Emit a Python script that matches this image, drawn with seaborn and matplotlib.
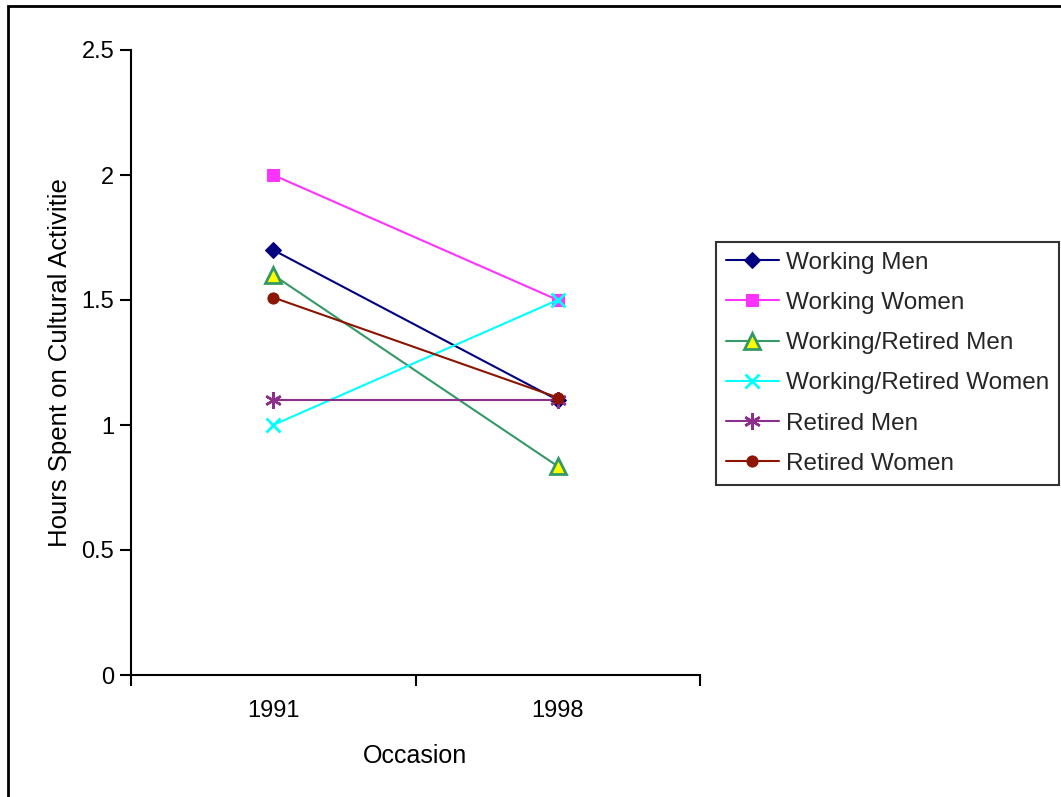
import matplotlib
matplotlib.use("Agg")
import matplotlib.pyplot as plt
import seaborn as sns
import pandas as pd
from matplotlib.patches import Rectangle

occasions = ["1991", "1998"]
working_men = [1.7, 1.1]
working_women = [2.0, 1.5]
working_retired_men = [1.6, 0.835]
working_retired_women = [1.0, 1.5]
retired_men = [1.1, 1.1]
retired_women = [1.51, 1.11]

series_names = ["Working Men", "Working Women", "Working/Retired Men",
                "Working/Retired Women", "Retired Men", "Retired Women"]
series_values = [working_men, working_women, working_retired_men,
                 working_retired_women, retired_men, retired_women]

styles = [
    dict(color="#000080", marker="D", markerfacecolor="#000080", markeredgecolor="#000080", markersize=8),
    dict(color="#FF33FF", marker="s", markerfacecolor="#FF33FF", markeredgecolor="#FF33FF", markersize=9),
    dict(color="#339966", marker="^", markerfacecolor="#FFFF00", markeredgecolor="#339966", markersize=11, markeredgewidth=2),
    dict(color="#00FFFF", marker="x", markerfacecolor="#00FFFF", markeredgecolor="#00FFFF", markersize=10, markeredgewidth=2),
    dict(color="#8B2F8B", marker=(6, 2, 0), markerfacecolor="#8B2F8B", markeredgecolor="#8B2F8B", markersize=12, markeredgewidth=1.8),
    dict(color="#8B1500", marker="o", markerfacecolor="#8B1500", markeredgecolor="#8B1500", markersize=8),
]

sns.set_theme(style="white")
plt.rcParams["font.family"] = ["Liberation Sans", "DejaVu Sans"]

W, H = 1061, 797
fig = plt.figure(figsize=(W / 100, H / 100), dpi=100)
ax = fig.add_axes([131 / W, 1 - 675 / H, (700 - 131) / W, (675 - 50) / H])

for name, vals, st in zip(series_names, series_values, styles):
    df = pd.DataFrame({"Occasion": occasions, "Hours": vals})
    sns.lineplot(data=df, x="Occasion", y="Hours", ax=ax, label=name,
                 linewidth=1.5, **st)

ax.set_xlim(-0.5, 1.5)
ax.set_ylim(0, 2.5)
ax.set_yticks([0, 0.5, 1, 1.5, 2, 2.5])
ax.set_yticklabels(["0", "0.5", "1", "1.5", "2", "2.5"])
ax.set_xticks([0, 1])
ax.set_xticklabels(occasions)
ax.set_xticks([-0.5, 0.5, 1.5], minor=True)
ax.tick_params(axis="x", which="major", length=0, pad=18, labelsize=17, colors="black")
ax.tick_params(axis="x", which="minor", length=8, width=1.5, direction="out", bottom=True, color="black")
ax.tick_params(axis="y", which="major", length=8, width=1.5, direction="out", left=True, pad=4, labelsize=17, colors="black")

for side in ["top", "right"]:
    ax.spines[side].set_visible(False)
for side in ["left", "bottom"]:
    ax.spines[side].set_color("black")
    ax.spines[side].set_linewidth(1.5)
ax.grid(False)

ax.set_xlabel("Occasion", fontsize=18, labelpad=16, color="black")
ax.set_ylabel("Hours Spent on Cultural Activitie", fontsize=18.5, labelpad=7, color="black")

leg = ax.legend(loc="upper left", bbox_to_anchor=(716 / W, 1 - 242 / H),
                bbox_transform=fig.transFigure, borderaxespad=0,
                fontsize=17.5, frameon=True, fancybox=False, shadow=False,
                handlelength=2.2, labelspacing=0.75, borderpad=0.4, handletextpad=0.3)
leg.get_frame().set_edgecolor("black")
leg.get_frame().set_linewidth(1.5)
leg.get_frame().set_facecolor("white")

border = Rectangle((8 / W, -0.1), 1.2, 1 - 6 / H + 0.1, transform=fig.transFigure,
                   fill=False, edgecolor="black", linewidth=2, clip_on=False)
fig.patches.append(border)

fig.savefig("out.png", dpi=100, facecolor="white")
